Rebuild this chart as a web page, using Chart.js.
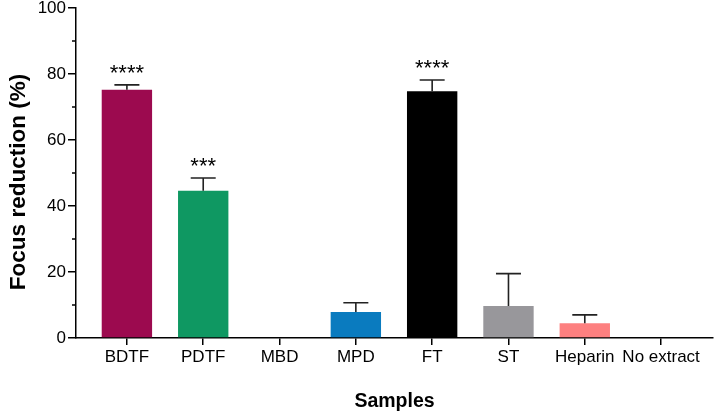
<!DOCTYPE html>
<html>
<head>
<meta charset="utf-8">
<script src="https://cdn.jsdelivr.net/npm/chart.js@4.4.1/dist/chart.umd.min.js"></script>
<style>
  html, body { margin: 0; padding: 0; background: #fff; }
  #wrap { width: 717px; height: 415px; }
</style>
</head>
<body>
<div id="wrap"><canvas id="focusChart" width="717" height="415"></canvas></div>
<script>
var categories = ['BDTF', 'PDTF', 'MBD', 'MPD', 'FT', 'ST', 'Heparin', 'No extract'];
var means = [75.2, 44.6, 0, 7.9, 74.8, 9.7, 4.5, 0];
var errors = [1.5, 3.9, 0, 2.8, 3.4, 9.8, 2.5, 0];
var stars = ['****', '***', '', '', '****', '', '', ''];
var barColors = ['#9c0a4f', '#0f9862', '#888888', '#0a7bbf', '#000000', '#98979b', '#fd8080', '#888888'];

var FONT = "'Liberation Sans', Arial, sans-serif";
var ctx = document.getElementById('focusChart');

// upper whiskers + significance stars
var errorBars = {
    id: 'errorBars',
    afterDatasetsDraw: function (chart) {
        var c = chart.ctx;
        var xs = chart.scales.x, ys = chart.scales.y;
        c.save();
        c.strokeStyle = '#222';
        c.lineWidth = 1.6;
        means.forEach(function (m, i) {
            var x = xs.getPixelForValue(i);
            var top = ys.getPixelForValue(m + errors[i]);
            if (errors[i] > 0) {
                c.beginPath();
                c.moveTo(x, ys.getPixelForValue(m));
                c.lineTo(x, top);
                c.moveTo(x - 12.5, top);
                c.lineTo(x + 12.5, top);
                c.stroke();
            }
            if (stars[i]) {
                c.fillStyle = '#000';
                c.font = '22px ' + FONT;
                c.textAlign = 'center';
                c.textBaseline = 'alphabetic';
                c.fillText(stars[i], x, top - 5);
            }
        });
        c.restore();
    }
};

// short minor ticks on the y axis and the rotated y title
var axisExtras = {
    id: 'axisExtras',
    afterDraw: function (chart) {
        var c = chart.ctx;
        var ys = chart.scales.y;
        var left = chart.chartArea.left;
        c.save();
        c.strokeStyle = '#000';
        c.lineWidth = 1.5;
        ys.ticks.forEach(function (t) {
            if (t.value % 20 !== 0) {
                var y = ys.getPixelForValue(t.value);
                c.beginPath();
                c.moveTo(left - 4, y);
                c.lineTo(left, y);
                c.stroke();
            }
        });
        c.translate(25, 182);
        c.rotate(-Math.PI / 2);
        c.fillStyle = '#000';
        c.font = 'bold 22.5px ' + FONT;
        c.textAlign = 'center';
        c.textBaseline = 'alphabetic';
        c.fillText('Focus reduction (%)', 0, 0);
        c.restore();
    }
};

var chart = new Chart(ctx, {
    type: 'bar',
    data: {
        datasets: [{
            label: 'Focus reduction',
            data: means.map(function (v, i) { return { x: i, y: v }; }),
            backgroundColor: barColors,
            borderWidth: 0,
            categoryPercentage: 1,
            barPercentage: 0.66
        }]
    },
    options: {
        responsive: false,
        animation: false,
        layout: { padding: { top: 8, right: 4, bottom: 0, left: 0 } },
        plugins: {
            legend: { display: false },
            tooltip: { enabled: false }
        },
        scales: {
            x: {
                type: 'linear',
                min: -0.667,
                max: 7.68,
                offset: false,
                afterBuildTicks: function (s) {
                    s.ticks = categories.map(function (_, i) { return { value: i }; });
                },
                afterFit: function (s) {
                    s.height = 77;
                    s.paddingLeft = 0;
                    s.paddingRight = 0;
                },
                grid: {
                    offset: false,
                    drawOnChartArea: false,
                    tickLength: 7,
                    tickColor: '#000',
                    lineWidth: 1.5
                },
                border: { display: true, color: '#000', width: 1.5 },
                ticks: {
                    color: '#000',
                    padding: 2,
                    maxRotation: 0,
                    autoSkip: false,
                    font: { family: FONT, size: 17 },
                    callback: function (v) { return categories[v]; }
                },
                title: {
                    display: true,
                    text: 'Samples',
                    color: '#000',
                    padding: { top: 0, bottom: 2 },
                    font: { family: FONT, size: 19.5, weight: 'bold', lineHeight: 1.2 }
                }
            },
            y: {
                min: 0,
                max: 100,
                afterFit: function (s) {
                    s.width = 76;
                    s.paddingTop = 0;
                    s.paddingBottom = 0;
                },
                grid: {
                    drawOnChartArea: false,
                    tickLength: 8,
                    lineWidth: 1.5,
                    tickColor: function (c) {
                        return c.tick && c.tick.value % 20 === 0 ? '#000' : 'rgba(0,0,0,0)';
                    }
                },
                border: { display: true, color: '#000', width: 1.5 },
                ticks: {
                    stepSize: 10,
                    color: '#000',
                    padding: 2,
                    font: { family: FONT, size: 17 },
                    callback: function (v) { return v % 20 === 0 ? v : ''; }
                }
            }
        }
    },
    plugins: [errorBars, axisExtras]
});
</script>
</body>
</html>
